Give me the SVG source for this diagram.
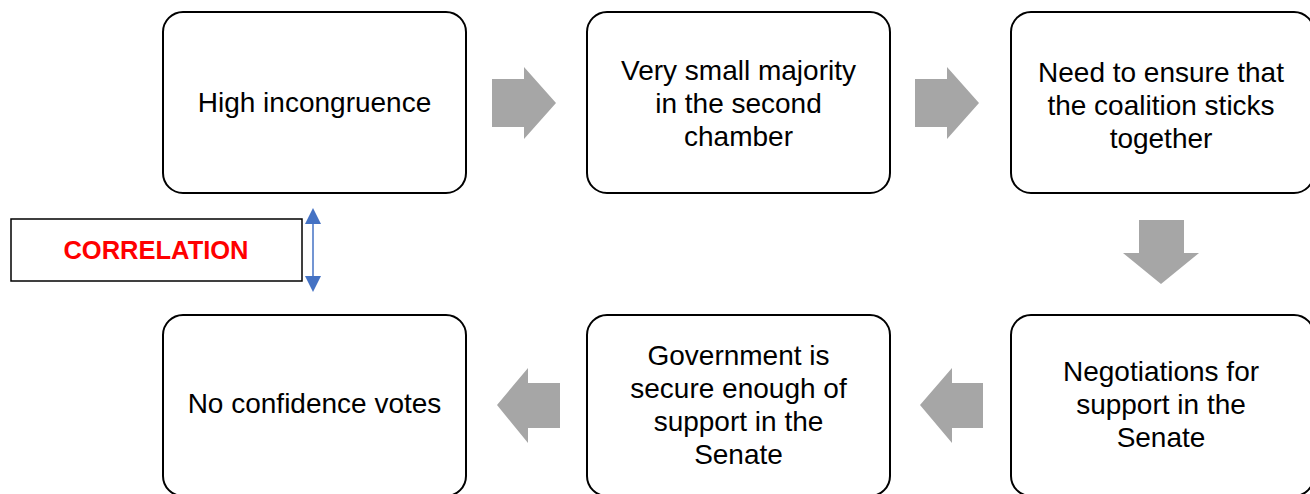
<svg xmlns="http://www.w3.org/2000/svg" width="1310" height="494" viewBox="0 0 1310 494">
<style>
.box{fill:#fff;stroke:#000;stroke-width:2}
.t{font-family:"Liberation Sans",Arial,sans-serif;font-size:28px;fill:#000;text-anchor:middle}
.arr{fill:#a6a6a6}
.corr{font-family:"Liberation Sans",Arial,sans-serif;font-size:25.5px;font-weight:bold;fill:#ff0000;text-anchor:middle}
</style>
<rect width="1310" height="494" fill="#fff"/>
<g id="n1"><rect class="box" x="163" y="12" width="303" height="181" rx="20"/>
<text class="t" x="314.5" y="112">High incongruence</text></g>
<g id="n2"><rect class="box" x="587" y="12" width="303" height="181" rx="20"/>
<text class="t" x="738.5" y="80">Very small majority</text>
<text class="t" x="738.5" y="113">in the second</text>
<text class="t" x="738.5" y="146">chamber</text></g>
<g id="n3"><rect class="box" x="1011" y="12" width="303" height="181" rx="20"/>
<text class="t" x="1161" y="82">Need to ensure that</text>
<text class="t" x="1161" y="115">the coalition sticks</text>
<text class="t" x="1161" y="148">together</text></g>
<g id="n4"><rect class="box" x="1011" y="315" width="303" height="181" rx="20"/>
<text class="t" x="1161" y="381">Negotiations for</text>
<text class="t" x="1161" y="414">support in the</text>
<text class="t" x="1161" y="447">Senate</text></g>
<g id="n5"><rect class="box" x="587" y="315" width="303" height="181" rx="20"/>
<text class="t" x="738.5" y="365">Government is</text>
<text class="t" x="738.5" y="398">secure enough of</text>
<text class="t" x="738.5" y="431">support in the</text>
<text class="t" x="738.5" y="464">Senate</text></g>
<g id="n6"><rect class="box" x="163" y="315" width="303" height="181" rx="20"/>
<text class="t" x="314.5" y="413">No confidence votes</text></g>
<g id="corr"><rect x="11" y="219" width="291" height="62" fill="#fff" stroke="#000" stroke-width="1.5"/>
<text class="corr" x="156" y="259">CORRELATION</text></g>
<g id="connectors">
<path class="arr" d="M492,79 H524 V67 L556,103 L524,139 V127 H492 Z"/>
<path class="arr" d="M915,79 H947 V67 L979,103 L947,139 V127 H915 Z"/>
<path class="arr" d="M1139,220 H1184 V253 H1199 L1161,284 L1123,253 H1139 Z"/>
<path class="arr" d="M983,383 H952 V368 L920,405 L952,443 V428 H983 Z"/>
<path class="arr" d="M560,383 H528 V368 L497,405 L528,443 V428 H560 Z"/>
<line x1="313" y1="224" x2="313" y2="276" stroke="#4472c4" stroke-width="1.5"/>
<path d="M313,208 L321,224 L305,224 Z" fill="#4472c4"/>
<path d="M313,292 L321,276 L305,276 Z" fill="#4472c4"/>
</g>
</svg>
